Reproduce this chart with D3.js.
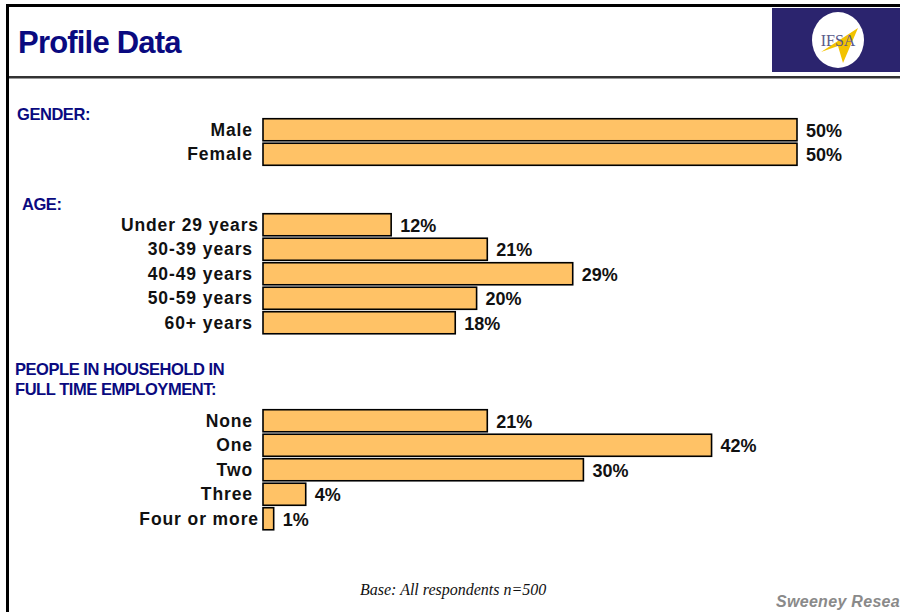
<!DOCTYPE html>
<html>
<head>
<meta charset="utf-8">
<script src="https://cdn.jsdelivr.net/npm/d3@7"></script>
<style>
  body { margin: 0; background: #fff; }
  svg { display: block; }
</style>
</head>
<body>
<div id="container"></div>
<script>
// the data
let genderCats = ["Male", "Female"];
let genderValues = [50, 50];

let ageCats = ["Under 29 years", "30-39 years", "40-49 years", "50-59 years", "60+ years"];
let ageValues = [12, 21, 29, 20, 18];

let employCats = ["None", "One", "Two", "Three", "Four or more"];
let employValues = [21, 42, 30, 4, 1];

let w = 900;
let h = 612;
let navy = "#0a0a80";
let barFill = "#ffc266";
let sans = "Liberation Sans, Arial, sans-serif";

let viz = d3.select("#container")
  .append("svg")
    .attr("width", w)
    .attr("height", h)
;

// frame: top and left black rules
viz.append("rect").attr("x", 6).attr("y", 4).attr("width", w - 6).attr("height", 3).attr("fill", "#000");
viz.append("rect").attr("x", 6).attr("y", 4).attr("width", 3).attr("height", h - 4).attr("fill", "#000");
// double rule under the title
viz.append("rect").attr("x", 9).attr("y", 76).attr("width", w - 9).attr("height", 2).attr("fill", "#333");
viz.append("rect").attr("x", 9).attr("y", 78).attr("width", w - 9).attr("height", 1).attr("fill", "#999");

viz.append("text")
  .attr("x", 18).attr("y", 53)
  .attr("font-family", sans)
  .attr("font-weight", "bold")
  .attr("font-size", 31)
  .attr("fill", navy)
  .attr("letter-spacing", -0.8)
  .text("Profile Data");

// logo box
let logo = viz.append("g");
logo.append("rect").attr("x", 772).attr("y", 8).attr("width", 128).attr("height", 64).attr("fill", "#2b246e");
logo.append("ellipse").attr("cx", 838).attr("cy", 40).attr("rx", 26).attr("ry", 28).attr("fill", "#fff");
logo.append("path")
  .attr("d", "M821,52 L858,28 L843,63 L838,46 Z")
  .attr("fill", "#f2c200");
logo.append("text")
  .attr("x", 838).attr("y", 46)
  .attr("text-anchor", "middle")
  .attr("font-family", "Liberation Serif, Times New Roman, serif")
  .attr("font-size", 16)
  .attr("fill", "#5a5a8a")
  .text("IFSA");

// x scale shared by all three groups
let xScale = d3.scaleLinear().domain([0, 50]).range([263, 797]);

function drawGroup(cats, values, top, step) {
  let yScale = d3.scaleBand()
    .domain(cats)
    .range([top, top + step * cats.length])
    .paddingInner(0.1)
    .paddingOuter(0.05);

  let data = cats.map((c, i) => ({ name: c, value: values[i] }));
  let g = viz.append("g");

  let rows = g.selectAll(".row").data(data).enter().append("g").classed("row", true);

  rows.append("rect")
    .attr("x", xScale(0))
    .attr("y", d => yScale(d.name))
    .attr("width", d => xScale(d.value) - xScale(0))
    .attr("height", yScale.bandwidth())
    .attr("fill", barFill)
    .attr("stroke", "#000")
    .attr("stroke-width", 1.6);

  rows.append("text")
    .attr("x", d => d.name.length > 11 ? 259 : 253)
    .attr("y", d => yScale(d.name) + yScale.bandwidth() / 2 + 6)
    .attr("text-anchor", "end")
    .attr("font-family", sans)
    .attr("font-weight", "bold")
    .attr("font-size", 17.5)
    .attr("letter-spacing", 0.9)
    .attr("fill", "#111")
    .text(d => d.name);

  rows.append("text")
    .attr("x", d => xScale(d.value) + 9)
    .attr("y", d => yScale(d.name) + yScale.bandwidth() / 2 + 7)
    .attr("font-family", sans)
    .attr("font-weight", "bold")
    .attr("font-size", 18)
    .attr("fill", "#111")
    .text(d => d.value + "%");
}

drawGroup(genderCats, genderValues, 117.5, 24.5);
drawGroup(ageCats, ageValues, 212.5, 24.5);
drawGroup(employCats, employValues, 408.5, 24.5);

// section headings
function heading(x, y, txt) {
  viz.append("text")
    .attr("x", x).attr("y", y)
    .attr("font-family", sans)
    .attr("font-weight", "bold")
    .attr("font-size", 16.5)
    .attr("letter-spacing", -0.45)
    .attr("fill", navy)
    .text(txt);
}
heading(17, 120, "GENDER:");
heading(22, 210, "AGE:");
heading(15, 375, "PEOPLE IN HOUSEHOLD IN");
heading(15, 395, "FULL TIME EMPLOYMENT:");

// footer
viz.append("text")
  .attr("x", 360).attr("y", 595)
  .attr("font-family", "Liberation Serif, Times New Roman, serif")
  .attr("font-style", "italic")
  .attr("font-size", 16)
  .attr("fill", "#111")
  .text("Base: All respondents n=500");

// the company name runs off the slide's right edge in the original
viz.append("text")
  .attr("x", 776).attr("y", 607)
  .attr("font-family", sans)
  .attr("font-style", "italic")
  .attr("font-weight", "bold")
  .attr("font-size", 16)
  .attr("letter-spacing", 0.3)
  .attr("fill", "#8a8a8a")
  .text("Sweeney Resea");
</script>
</body>
</html>
